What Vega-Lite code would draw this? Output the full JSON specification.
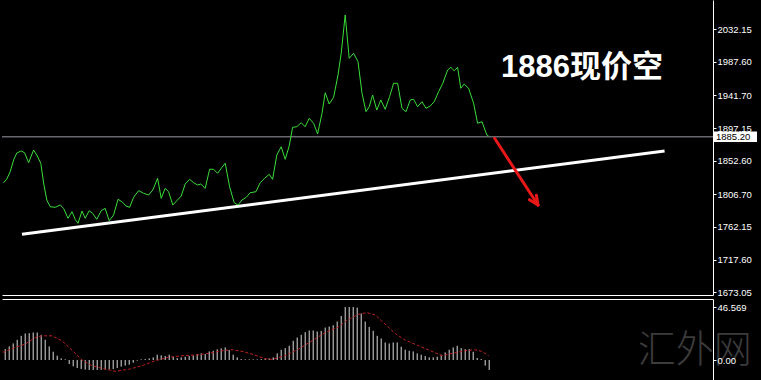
{
  "$schema": "https://vega.github.io/schema/vega-lite/v6.json",
  "background": "black",
  "padding": 0,
  "spacing": 2,
  "config": {"view": {"stroke": null}},
  "datasets": {
    "price": [
      {"i":-0.4,"p":1822.6},{"i":0.4,"p":1827.6},{"i":1.25,"p":1837.6},{"i":2.1,"p":1853.6},{"i":2.9,"p":1863.1},{"i":4.0,"p":1865.9},{"i":4.85,"p":1863.5},{"i":5.85,"p":1849.9},{"i":7.1,"p":1867.2},{"i":7.9,"p":1860.4},{"i":8.9,"p":1849.1},{"i":9.6,"p":1822.2},{"i":10.4,"p":1799.0},{"i":11.25,"p":1789.8},{"i":12.5,"p":1789.0},{"i":13.75,"p":1792.1},{"i":14.6,"p":1787.6},{"i":15.7,"p":1774.0},{"i":16.7,"p":1783.0},{"i":17.5,"p":1772.6},{"i":18.2,"p":1767.2},{"i":19.2,"p":1783.9},{"i":20.0,"p":1774.0},{"i":21.0,"p":1784.4},{"i":21.85,"p":1780.8},{"i":22.9,"p":1772.6},{"i":24.0,"p":1784.4},{"i":25.0,"p":1787.6},{"i":26.0,"p":1770.7},{"i":27.1,"p":1778.5},{"i":28.2,"p":1799.9},{"i":29.2,"p":1796.6},{"i":30.2,"p":1790.8},{"i":31.1,"p":1789.0},{"i":32.1,"p":1802.6},{"i":33.35,"p":1811.7},{"i":34.6,"p":1808.1},{"i":35.85,"p":1805.8},{"i":36.9,"p":1812.6},{"i":38.1,"p":1828.6},{"i":39.0,"p":1801.3},{"i":40.0,"p":1814.9},{"i":40.85,"p":1810.3},{"i":41.9,"p":1792.1},{"i":42.9,"p":1798.0},{"i":44.0,"p":1804.4},{"i":45.0,"p":1820.8},{"i":46.1,"p":1827.2},{"i":47.1,"p":1822.6},{"i":48.1,"p":1819.4},{"i":48.9,"p":1820.8},{"i":50.0,"p":1814.9},{"i":51.1,"p":1840.9},{"i":52.1,"p":1840.9},{"i":53.1,"p":1835.4},{"i":54.2,"p":1843.6},{"i":55.0,"p":1849.1},{"i":56.1,"p":1817.1},{"i":57.25,"p":1795.3},{"i":58.2,"p":1792.1},{"i":59.2,"p":1799.0},{"i":60.25,"p":1802.6},{"i":61.25,"p":1808.9},{"i":62.7,"p":1810.3},{"i":63.75,"p":1822.6},{"i":64.85,"p":1828.6},{"i":66.0,"p":1834.0},{"i":66.85,"p":1827.2},{"i":67.9,"p":1860.4},{"i":69.0,"p":1871.7},{"i":70.0,"p":1854.5},{"i":71.0,"p":1872.7},{"i":71.85,"p":1898.2},{"i":72.9,"p":1899.0},{"i":74.0,"p":1904.5},{"i":75.0,"p":1899.0},{"i":76.0,"p":1910.5},{"i":77.1,"p":1903.7},{"i":78.1,"p":1889.1},{"i":79.2,"p":1917.3},{"i":80.0,"p":1945.4},{"i":81.0,"p":1930.0},{"i":82.1,"p":1939.2},{"i":83.2,"p":1969.6},{"i":84.0,"p":1999.2},{"i":85.0,"p":2051.5},{"i":86.0,"p":1992.4},{"i":87.1,"p":1999.2},{"i":88.2,"p":1987.8},{"i":89.2,"p":1944.6},{"i":90.2,"p":1919.5},{"i":91.0,"p":1926.3},{"i":91.85,"p":1942.3},{"i":92.9,"p":1921.8},{"i":93.9,"p":1935.5},{"i":95.0,"p":1922.8},{"i":96.1,"p":1940.0},{"i":97.1,"p":1958.3},{"i":98.1,"p":1958.3},{"i":99.2,"p":1924.1},{"i":100.2,"p":1919.5},{"i":101.25,"p":1935.5},{"i":102.1,"p":1936.4},{"i":103.1,"p":1926.3},{"i":104.2,"p":1933.2},{"i":105.2,"p":1924.1},{"i":106.25,"p":1927.3},{"i":107.25,"p":1933.2},{"i":108.35,"p":1946.8},{"i":109.4,"p":1958.3},{"i":110.6,"p":1976.4},{"i":111.4,"p":1980.1},{"i":112.25,"p":1975.5},{"i":113.1,"p":1980.1},{"i":113.9,"p":1951.5},{"i":114.75,"p":1957.3},{"i":115.85,"p":1951.5},{"i":117.1,"p":1931.0},{"i":118.1,"p":1903.7},{"i":119.2,"p":1905.9},{"i":120.4,"p":1887.7},{"i":120.85,"p":1886.3}
    ],
    "trend": [{"i":4.2,"p":1752.1},{"i":164.85,"p":1865.9}],
    "cur": [{"i":-0.8,"p":1885.2},{"i":176.95,"p":1885.2}],
    "arrow": [
      {"i":122.35,"p":1883.2,"i2":133.2,"p2":1792.1},
      {"i":132.8,"p":1805.6,"i2":133.2,"p2":1792.1},
      {"i":131.05,"p":1799.4,"i2":133.2,"p2":1792.1}
    ],
    "note": [{"i":144.2,"p":1979.2,"label":"1886现价空"}],
    "box": [{"i":177.2,"p":1892.5,"i2":187.95,"p2":1878.1}],
    "boxlabel": [{"i":177.7,"p":1885.2,"label":"1885.20"}],
    "osc": [
      {"i":0,"v":9.61},{"i":1,"v":11.94},{"i":2,"v":14.56},{"i":3,"v":17.76},{"i":4,"v":21.26},{"i":5,"v":23.30},{"i":6,"v":23.59},{"i":7,"v":24.17},{"i":8,"v":24.17},{"i":9,"v":22.13},
      {"i":10,"v":17.76},{"i":11,"v":11.94},{"i":12,"v":7.28},{"i":13,"v":3.79},{"i":14,"v":1.46},{"i":15,"v":0.58},{"i":16,"v":-3.49},{"i":17,"v":-5.53},{"i":18,"v":-6.99},{"i":19,"v":-7.86},
      {"i":20,"v":-8.44},{"i":21,"v":-8.74},{"i":22,"v":-8.74},{"i":23,"v":-8.74},{"i":24,"v":-8.74},{"i":25,"v":-8.44},{"i":26,"v":-8.15},{"i":27,"v":-7.86},{"i":28,"v":-6.99},{"i":29,"v":-5.82},
      {"i":30,"v":-4.95},{"i":31,"v":-4.08},{"i":32,"v":-2.33},{"i":33,"v":-0.58},{"i":34,"v":0.58},{"i":35,"v":0.87},{"i":36,"v":1.46},{"i":37,"v":2.33},{"i":38,"v":4.66},{"i":39,"v":4.08},
      {"i":40,"v":3.49},{"i":41,"v":4.66},{"i":42,"v":2.91},{"i":43,"v":1.75},{"i":44,"v":2.33},{"i":45,"v":2.91},{"i":46,"v":3.49},{"i":47,"v":4.08},{"i":48,"v":5.24},{"i":49,"v":5.82},
      {"i":50,"v":5.24},{"i":51,"v":7.57},{"i":52,"v":8.15},{"i":53,"v":9.32},{"i":54,"v":10.19},{"i":55,"v":11.07},{"i":56,"v":8.74},{"i":57,"v":4.66},{"i":58,"v":2.33},{"i":59,"v":0.87},
      {"i":60,"v":0.58},{"i":61,"v":0.58},{"i":62,"v":0.58},{"i":63,"v":0.58},{"i":64,"v":0.87},{"i":65,"v":1.16},{"i":66,"v":1.46},{"i":67,"v":2.33},{"i":68,"v":5.82},{"i":69,"v":9.03},
      {"i":70,"v":10.48},{"i":71,"v":12.52},{"i":72,"v":16.89},{"i":73,"v":19.80},{"i":74,"v":22.13},{"i":75,"v":24.46},{"i":76,"v":25.92},{"i":77,"v":25.92},{"i":78,"v":25.04},{"i":79,"v":25.63},
      {"i":80,"v":28.54},{"i":81,"v":29.41},{"i":82,"v":30.58},{"i":83,"v":33.78},{"i":84,"v":38.73},{"i":85,"v":46.57},{"i":86,"v":46.57},{"i":87,"v":46.57},{"i":88,"v":46.0},{"i":89,"v":40.77},
      {"i":90,"v":33.78},{"i":91,"v":29.12},{"i":92,"v":25.63},{"i":93,"v":21.26},{"i":94,"v":18.93},{"i":95,"v":15.43},{"i":96,"v":14.56},{"i":97,"v":15.43},{"i":98,"v":15.43},{"i":99,"v":11.65},
      {"i":100,"v":9.03},{"i":101,"v":8.15},{"i":102,"v":7.57},{"i":103,"v":5.82},{"i":104,"v":4.66},{"i":105,"v":3.49},{"i":106,"v":2.33},{"i":107,"v":2.33},{"i":108,"v":2.91},{"i":109,"v":4.66},
      {"i":110,"v":6.70},{"i":111,"v":9.03},{"i":112,"v":11.07},{"i":113,"v":12.52},{"i":114,"v":10.48},{"i":115,"v":9.61},{"i":116,"v":9.61},{"i":117,"v":7.28},{"i":118,"v":1.75},{"i":119,"v":0.87},
      {"i":120,"v":-4.95},{"i":121,"v":-8.74}
    ],
    "signal": [
      {"i":-0.6,"v":6.70},{"i":2.5,"v":11.07},{"i":5.0,"v":13.98},{"i":7.5,"v":19.80},{"i":9.2,"v":21.26},{"i":11.7,"v":21.26},{"i":14.2,"v":16.89},{"i":16.7,"v":8.74},{"i":19.2,"v":0},{"i":21.7,"v":-4.95},{"i":24.2,"v":-7.28},{"i":27.5,"v":-9.90},{"i":30.85,"v":-8.15},{"i":34.2,"v":-4.95},{"i":37.5,"v":-0.58},{"i":40.85,"v":2.33},{"i":44.2,"v":3.79},{"i":47.5,"v":4.37},{"i":50.85,"v":5.82},{"i":54.2,"v":8.15},{"i":56.7,"v":9.03},{"i":59.2,"v":7.57},{"i":61.7,"v":5.24},{"i":65.0,"v":1.16},{"i":66.7,"v":0.58},{"i":70.0,"v":3.79},{"i":73.35,"v":9.61},{"i":76.7,"v":16.89},{"i":80.0,"v":24.17},{"i":83.35,"v":29.12},{"i":85.85,"v":35.82},{"i":88.35,"v":40.19},{"i":90.4,"v":41.64},{"i":92.5,"v":39.60},{"i":95.0,"v":31.45},{"i":97.5,"v":23.30},{"i":100.0,"v":17.47},{"i":103.35,"v":12.52},{"i":106.7,"v":7.57},{"i":109.2,"v":3.79},{"i":111.7,"v":5.82},{"i":115.0,"v":8.15},{"i":117.5,"v":9.03},{"i":119.2,"v":7.57},{"i":120.85,"v":3.79}
    ],
    "wm": [{"i":172.4,"v":8.35,"label":"汇外网"}]
  },
  "vconcat": [
    {
      "width": 711,
      "height": 295,
      "encoding": {
        "x": {"field": "i", "type": "quantitative",
          "scale": {"domain": [-0.8, 176.95], "nice": false, "zero": false},
          "axis": {"orient": "bottom", "labels": false, "ticks": false, "grid": false, "domainColor": "white", "domainWidth": 1, "title": null}},
        "y": {"field": "p", "type": "quantitative",
          "scale": {"domain": [1669.3, 2072], "nice": false, "zero": false},
          "axis": {"orient": "right", "values": [2032.15, 1987.6, 1941.7, 1897.15, 1852.6, 1806.7, 1762.15, 1717.6, 1673.05], "format": ".2f", "grid": false, "domainColor": "white", "tickColor": "white", "tickSize": 3, "labelColor": "white", "labelFont": "Liberation Sans", "labelFontSize": 9.5, "labelPadding": 1, "labelBaseline": "middle", "title": null, "minExtent": 50, "maxExtent": 50}}
      },
      "layer": [
        {"data": {"name": "cur"}, "mark": {"type": "line", "color": "#9c9ca4", "strokeWidth": 1}},
        {"data": {"name": "trend"}, "mark": {"type": "line", "color": "white", "strokeWidth": 3}},
        {"data": {"name": "price"}, "mark": {"type": "line", "color": "#3ade3a", "strokeWidth": 1}},
        {"data": {"name": "arrow"}, "mark": {"type": "rule", "color": "#e81818", "strokeWidth": 3, "strokeCap": "round"},
          "encoding": {"x2": {"field": "i2"}, "y2": {"field": "p2"}}},
        {"data": {"name": "note"}, "mark": {"type": "text", "color": "white", "font": "Liberation Sans, Noto Sans CJK SC", "fontWeight": "bold", "fontSize": 31, "align": "center", "baseline": "middle"},
          "encoding": {"text": {"field": "label"}}},
        {"data": {"name": "box"}, "mark": {"type": "rect", "color": "white"},
          "encoding": {"x2": {"field": "i2"}, "y2": {"field": "p2"}}},
        {"data": {"name": "boxlabel"}, "mark": {"type": "text", "color": "black", "font": "Liberation Sans", "fontSize": 9.5, "align": "left", "baseline": "middle"},
          "encoding": {"text": {"field": "label"}}}
      ]
    },
    {
      "width": 711,
      "height": 83,
      "encoding": {
        "x": {"field": "i", "type": "quantitative",
          "scale": {"domain": [-0.8, 176.95], "nice": false, "zero": false},
          "axis": {"orient": "top", "labels": false, "ticks": false, "grid": false, "domainColor": "white", "domainWidth": 1, "title": null}},
        "y": {"field": "v", "type": "quantitative",
          "scale": {"domain": [-19.3, 53.6], "nice": false, "zero": false},
          "axis": {"orient": "right", "values": [0, 46.569], "labelExpr": "datum.value == 0 ? '0.00' : '46.569'", "grid": false, "domainColor": "white", "tickColor": "white", "tickSize": 3, "labelColor": "white", "labelFont": "Liberation Sans", "labelFontSize": 9.5, "labelPadding": 1, "labelBaseline": "middle", "title": null, "minExtent": 50, "maxExtent": 50, "zindex": 1}}
      },
      "layer": [
        {"data": {"name": "wm"}, "mark": {"type": "text", "color": "#3c3c3c", "font": "Noto Sans CJK SC", "fontWeight": 300, "fontSize": 38, "align": "center", "baseline": "middle"},
          "encoding": {"text": {"field": "label"}}},
        {"data": {"name": "osc"}, "mark": {"type": "rule", "color": "#dcdcdc", "strokeWidth": 1},
          "encoding": {"y2": {"datum": 0}}},
        {"data": {"name": "signal"}, "mark": {"type": "line", "color": "#c02020", "strokeWidth": 1, "strokeDash": [3, 2]}}
      ]
    }
  ]
}
